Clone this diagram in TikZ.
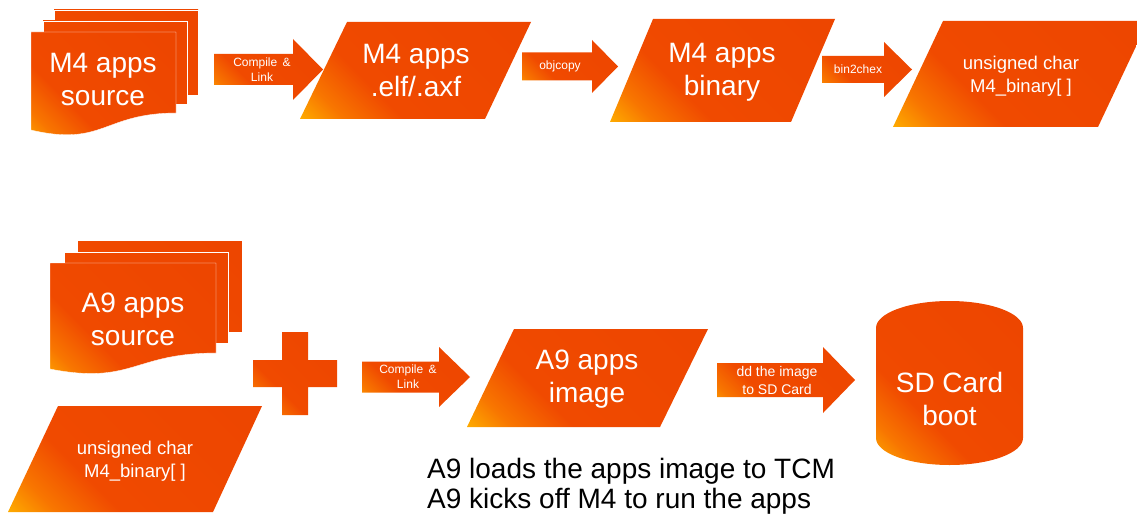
\documentclass[tikz,border=0pt]{standalone}
\usepackage{fontspec}
\setmainfont{Liberation Sans}
\definecolor{oyel}{RGB}{255,180,0}
\definecolor{oorg}{RGB}{248,118,0}
\definecolor{ored}{RGB}{240,74,0}
\definecolor{oredd}{RGB}{236,68,0}
\pgfdeclarehorizontalshading{orsh}{100bp}{color(0bp)=(oyel); color(13bp)=(oyel); color(24bp)=(oorg); color(37bp)=(ored); color(100bp)=(oredd)}
\tikzset{
  orfill/.style={shading=orsh, shading angle=45},
  pagefill/.style={orfill, draw=white, line width=0.3pt},
  bigtxt/.style={text=white, align=center, font=\fontsize{28}{33}\selectfont},
  midtxt/.style={text=white, align=center, font=\fontsize{18.5}{23}\selectfont},
  smtxt/.style={text=white, align=center, font=\fontsize{12}{15}\selectfont},
  ddtxt/.style={text=white, align=center, font=\fontsize{14}{18}\selectfont},
  notetxt/.style={text=black, align=left, font=\fontsize{28}{30}\selectfont, inner sep=0pt},
}
% parallelogram: xtl, xtr, ytop, xbl, xbr, ybot
\newcommand\myparall[6]{\shade[orfill] (#1,#3) -- (#2,#3) -- (#5,#6) -- (#4,#6) -- cycle;}
% block arrow: xstart, xhead, xtip, ycenter, body half, head half
\newcommand\myblkarrow[6]{\shade[orfill] (#1,#4-#5) -- (#2,#4-#5) -- (#2,#4-#6) -- (#3,#4) -- (#2,#4+#6) -- (#2,#4+#5) -- (#1,#4+#5) -- cycle;}
\begin{document}
\begin{tikzpicture}[x=1pt,y=-1pt]
\useasboundingbox (0,0) rectangle (1137,516);

% ---------- top row ----------
% M4 apps source (multi document)
\shade[pagefill] (54,10) rectangle (198,95);
\shade[pagefill] (43,21) rectangle (187,104);
\shade[pagefill] (31,32) -- (176,32) -- (176,113) .. controls (103.5,113) and (103.5,147) .. (31,130) -- cycle;
\node[bigtxt] (m4src) at (103,80) {M4 apps\\source};

\myblkarrow{214}{293}{323}{69.5}{15.5}{30.5}
\node[smtxt] (arr1) at (262,69.5) {Compile \,\&\\Link};

\myparall{347}{531}{22}{300}{485}{119}
\node[bigtxt] (m4elf) at (416,70.5) {M4 apps\\.elf/.axf};

\myblkarrow{522}{592}{618}{66.5}{14}{26.5}
\node[smtxt] (arr2) at (560,66.5) {objcopy};

\myparall{653}{835}{19}{610}{791}{122}
\node[bigtxt] (m4bin) at (722,72) {M4 apps\\binary};

\myblkarrow{822}{884}{912}{69.5}{13.5}{27.5}
\node[smtxt] (arr3) at (858,69.5) {bin2chex};

\myparall{943}{1148}{21}{893}{1098}{127}
\node[midtxt] (m4arr) at (1021,76) {unsigned char\\M4\_binary[ ]};

% ---------- bottom row ----------
\shade[pagefill] (77,240) rectangle (242,332);
\shade[pagefill] (64,252) rectangle (228,343);
\shade[pagefill] (50,263) -- (216,263) -- (216,353) .. controls (133,353) and (133,385) .. (50,369) -- cycle;
\node[bigtxt] (a9src) at (133,319) {A9 apps\\source};

\myparall{58}{262}{406}{8}{213}{512}
\node[midtxt] (m4arrb) at (135,461) {unsigned char\\M4\_binary[ ]};

\shade[orfill] (282,332) -- (308,332) -- (308,360) -- (337,360) -- (337,387) -- (308,387) -- (308,415) -- (282,415) -- (282,387) -- (253,387) -- (253,360) -- (282,360) -- cycle;
\coordinate (plus) at (295,373.5);

\myblkarrow{362}{439}{470}{377}{15.5}{30}
\node[smtxt] (arr4) at (408,377) {Compile \,\&\\Link};

\myparall{514}{708}{329}{467}{660}{427}
\node[bigtxt] (a9img) at (587,379) {A9 apps\\image};

\myblkarrow{717}{823}{855}{380}{17}{33}
\node[ddtxt] (arr5) at (777,380) {dd the image\\to SD Card};

\shade[orfill] (876,328) -- (876,438) arc[start angle=180, end angle=0, x radius=73.5, y radius=27] -- (1023,328) arc[start angle=0, end angle=-180, x radius=73.5, y radius=27] -- cycle;
\node[bigtxt] (sd) at (949.5,399) {SD Card\\boot};

\node[notetxt, anchor=base west] (note) at (427,508) {A9 loads the apps image to TCM\\A9 kicks off M4 to run the apps};
\end{tikzpicture}
\end{document}
